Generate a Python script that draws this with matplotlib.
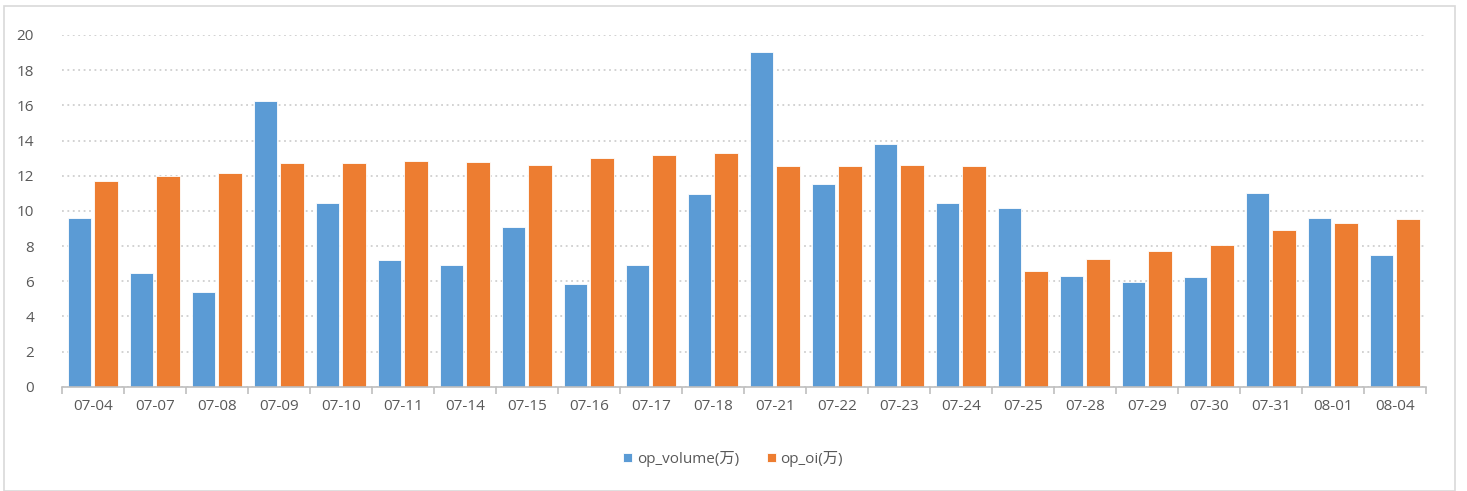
import matplotlib
matplotlib.use("Agg")
import matplotlib.pyplot as plt
from matplotlib.patches import Rectangle
import numpy as np

plt.rcParams['font.family'] = ['Open Sans', 'Noto Sans CJK SC', 'DejaVu Sans']

dates = ["07-04", "07-07", "07-08", "07-09", "07-10", "07-11", "07-14", "07-15",
         "07-16", "07-17", "07-18", "07-21", "07-22", "07-23", "07-24", "07-25",
         "07-28", "07-29", "07-30", "07-31", "08-01", "08-04"]
op_volume = [9.57, 6.48, 5.40, 16.25, 10.45, 7.20, 6.94, 9.06, 5.86, 6.94, 10.94,
             19.03, 11.55, 13.78, 10.45, 10.18, 6.27, 5.93, 6.22, 11.03, 9.61, 7.47]
op_oi = [11.72, 11.96, 12.13, 12.72, 12.74, 12.83, 12.80, 12.59, 12.99, 13.16, 13.27,
         12.55, 12.57, 12.59, 12.55, 6.56, 7.26, 7.70, 8.08, 8.89, 9.31, 9.52]
yticks = [0, 2, 4, 6, 8, 10, 12, 14, 16, 18, 20]

blue = "#5B9BD5"
orange = "#ED7D31"
text_c = "#595959"
grid_c = "#CFCFCF"

W, H = 1467, 491
fig = plt.figure(figsize=(W / 100, H / 100), dpi=100)
# outer border
fig.patches.append(Rectangle((4 / W, 0), (1455 - 4) / W, (491 - 6) / H,
                             transform=fig.transFigure, fill=False,
                             edgecolor="#D9D9D9", linewidth=1.2))

left, right, top, bottom = 61.7, 1425.7, 35.0, 386.7
ax = fig.add_axes([left / W, 1 - bottom / H, (right - left) / W, (bottom - top) / H])

x = np.arange(len(dates))
bw = 0.38
off = 0.216
b1 = ax.bar(x - off, op_volume, bw, color=blue, edgecolor="white", linewidth=0.6,
            label="op_volume(万)", zorder=3)
b2 = ax.bar(x + off, op_oi, bw, color=orange, edgecolor="white", linewidth=0.6,
            label="op_oi(万)", zorder=3)

ax.set_xlim(-0.5, len(dates) - 0.5)
ax.set_ylim(0, 20)
ax.set_yticks(yticks)
ax.set_yticklabels([str(t) for t in yticks], color=text_c, fontsize=11)
ax.yaxis.grid(True, linestyle=(0, (1, 2)), color=grid_c, linewidth=1.3, zorder=0)
ax.tick_params(axis='y', length=0, pad=20)

ax.set_xticks(x)
ax.set_xticklabels(dates, color=text_c, fontsize=11)
ax.tick_params(axis='x', length=0, pad=9)
# category boundary ticks
ax.set_xticks(np.arange(len(dates) + 1) - 0.5, minor=True)
ax.tick_params(axis='x', which='minor', length=5, color="#BFBFBF", width=1.2)

for s in ["top", "right", "left"]:
    ax.spines[s].set_visible(False)
ax.spines["bottom"].set_color("#BFBFBF")
ax.spines["bottom"].set_linewidth(1.2)
ax.spines["bottom"].set_zorder(4)

leg = fig.legend(handles=[b1, b2], loc="center", bbox_to_anchor=(733 / W, 1 - 459 / H),
                 ncol=2, frameon=False, fontsize=11, handlelength=0.6, handleheight=0.6,
                 handletextpad=0.3, columnspacing=1.8)
for t in leg.get_texts():
    t.set_color(text_c)

fig.savefig("out.png", dpi=100)
